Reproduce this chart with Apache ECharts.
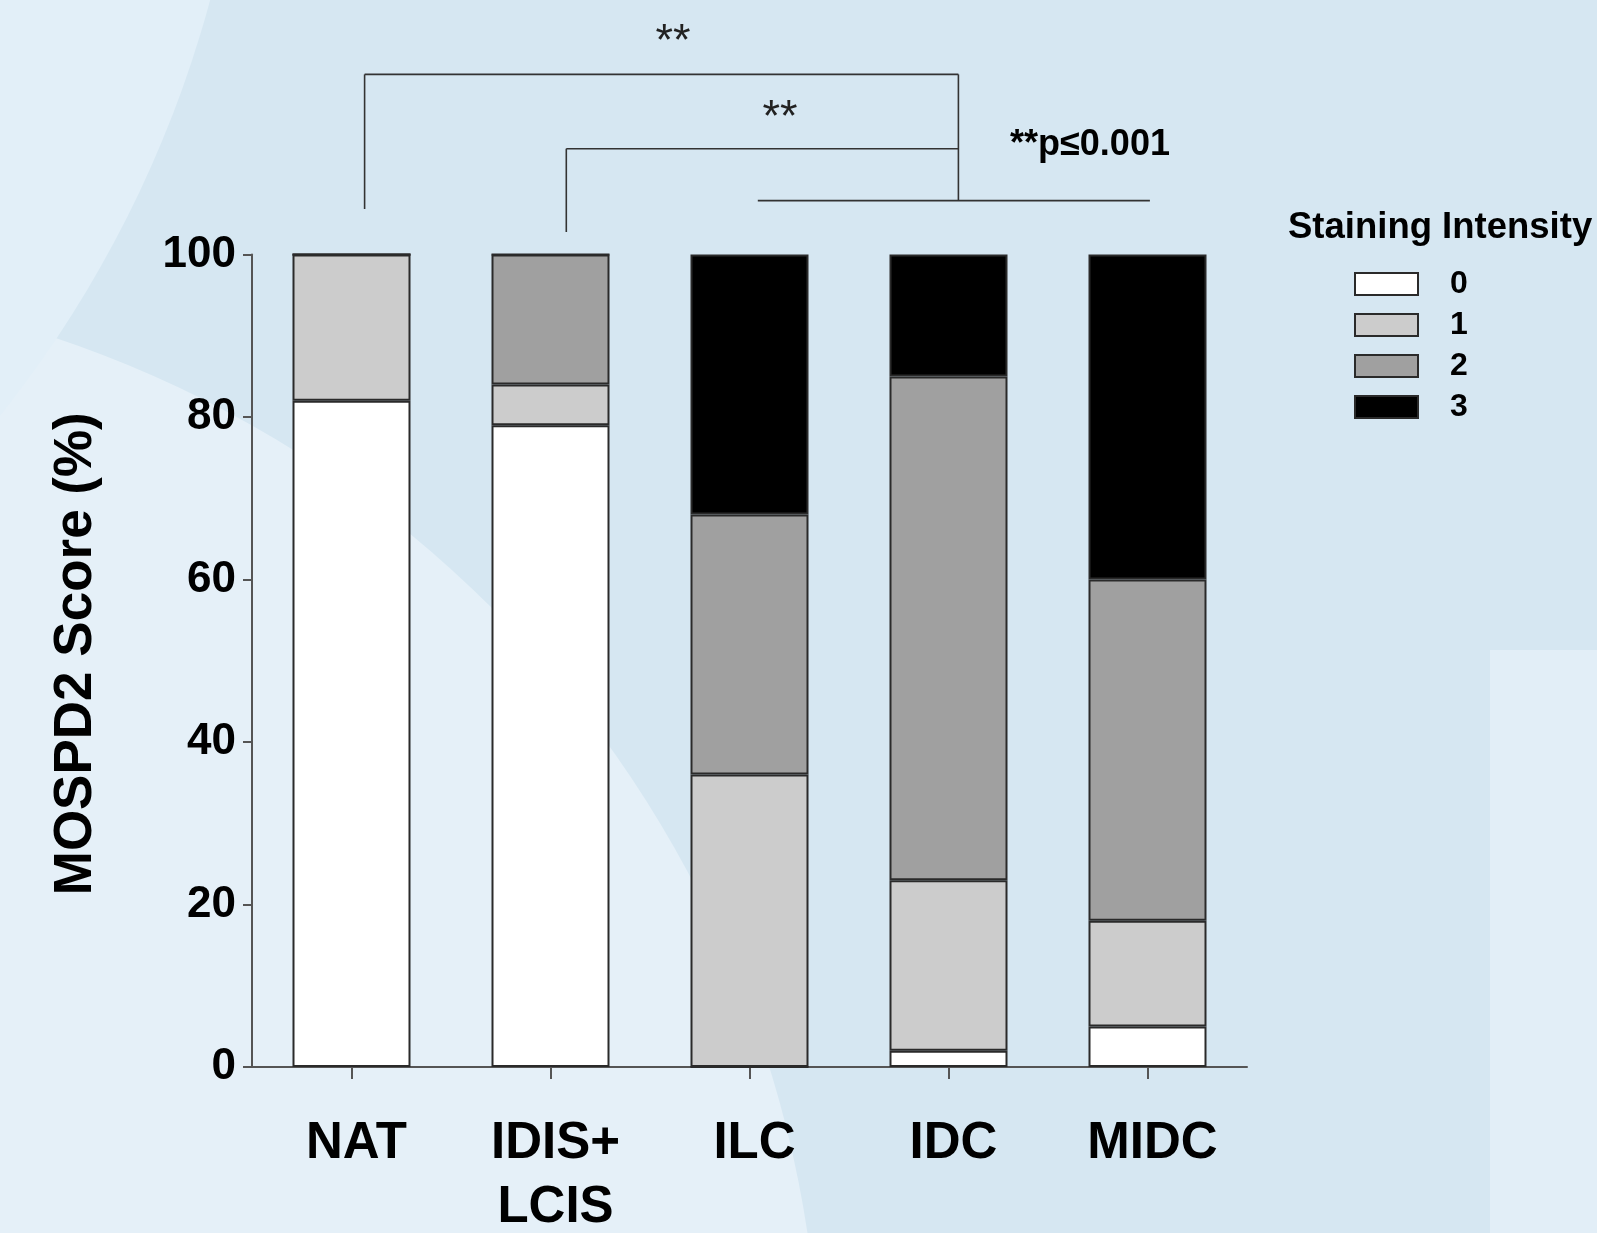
<!DOCTYPE html>
<html>
<head>
<meta charset="utf-8">
<script src="https://cdn.jsdelivr.net/npm/echarts@6/dist/echarts.min.js"></script>
<style>
html,body{margin:0;padding:0;background:#d6e7f2;overflow:hidden;}
#chart{width:1597px;height:1233px;}
</style>
</head>
<body>
<div id="chart"></div>
<script>
// ---- data ----
var categories = ['NAT', 'IDIS+\nLCIS', 'ILC', 'IDC', 'MIDC'];
var seriesNames = ['0', '1', '2', '3'];
var intensity0 = [82, 79, 0, 2, 5];
var intensity1 = [18, 5, 36, 21, 13];
var intensity2 = [0, 16, 32, 62, 42];
var intensity3 = [0, 0, 32, 15, 40];
var yTicks = [0, 20, 40, 60, 80, 100];

var seriesValues = [intensity0, intensity1, intensity2, intensity3];
var colors = ['#ffffff', '#cccccc', '#a0a0a0', '#000000'];

var chart = echarts.init(document.getElementById('chart'), null, {renderer: 'canvas'});

var boldFont = "'Liberation Sans', Arial, sans-serif";

var series = seriesNames.map(function (n, i) {
  return {
    name: n,
    type: 'bar',
    stack: 'score',
    barWidth: 118,
    data: seriesValues[i],
    itemStyle: {color: colors[i], borderColor: '#2a2a2a', borderWidth: 2},
    emphasis: {disabled: true},
    z: 3
  };
});

var lineStyle = {stroke: '#333', lineWidth: 1.6};
function seg(x1, y1, x2, y2) {
  return {type: 'line', shape: {x1: x1, y1: y1, x2: x2, y2: y2}, style: lineStyle, z: 10, silent: true};
}

var option = {
  backgroundColor: 'transparent',
  animation: false,
  grid: {left: 252, right: 350, top: 254.5, bottom: 166, containLabel: false, outerBoundsMode: 'none'},
  legend: {
    orient: 'vertical',
    left: 1349,
    top: 263,
    itemWidth: 63,
    itemHeight: 22,
    itemGap: 9,
    icon: 'rect',
    data: seriesNames,
    itemStyle: {borderColor: '#2a2a2a', borderWidth: 2},
    textStyle: {fontFamily: boldFont, fontWeight: 'bold', fontSize: 32, color: '#000', padding: [0, 0, 0, 27]},
    selectedMode: false
  },
  xAxis: {
    type: 'category',
    data: categories,
    axisLine: {lineStyle: {color: '#555', width: 2}},
    axisTick: {show: true, alignWithLabel: true, length: 12, lineStyle: {color: '#555', width: 2}},
    axisLabel: {
      fontFamily: boldFont, fontWeight: 'bold', fontSize: 51, color: '#000',
      margin: 45, lineHeight: 64, padding: [0, 0, 0, 10], interval: 0
    }
  },
  yAxis: {
    type: 'value',
    min: 0, max: 100, interval: 20,
    name: 'MOSPD2 Score (%)',
    nameLocation: 'middle',
    nameRotate: 90,
    nameGap: 149,
    nameTextStyle: {fontFamily: boldFont, fontWeight: 'bold', fontSize: 53, color: '#000', padding: [0, 0, 0, 14]},
    axisLine: {show: true, lineStyle: {color: '#555', width: 2}},
    axisTick: {show: true, length: 9, lineStyle: {color: '#555', width: 2}},
    splitLine: {show: false},
    axisLabel: {
      fontFamily: boldFont, fontWeight: 'bold', fontSize: 44, color: '#000', margin: 16,
      formatter: function (v) { return yTicks.indexOf(v) >= 0 ? String(v) : ''; }
    }
  },
  graphic: [
    // background shading
    {type: 'circle', shape: {cx: -300, cy: 1400, r: 1120}, style: {fill: '#e5f0f8'}, z: -10, silent: true},
    {type: 'circle', shape: {cx: -900, cy: -300, r: 1150}, style: {fill: '#e2eff8'}, z: -10, silent: true},
    {type: 'rect', shape: {x: 1490, y: 650, width: 200, height: 600}, style: {fill: '#e2eef7'}, z: -10, silent: true},
    // significance brackets
    seg(364.6, 74.4, 958.4, 74.4),
    seg(364.6, 74.4, 364.6, 209),
    seg(958.4, 74.4, 958.4, 200.6),
    seg(566.3, 148.7, 958.4, 148.7),
    seg(566.3, 148.7, 566.3, 232),
    seg(757.8, 200.6, 1149.9, 200.6),
    {type: 'text', x: 673, y: 43, style: {text: '**', fontFamily: boldFont, fontSize: 45, fill: '#222', align: 'center', verticalAlign: 'middle'}, z: 10, silent: true},
    {type: 'text', x: 780, y: 119, style: {text: '**', fontFamily: boldFont, fontSize: 45, fill: '#222', align: 'center', verticalAlign: 'middle'}, z: 10, silent: true},
    {type: 'text', x: 1090, y: 145, style: {text: '**p\u22640.001', fontFamily: boldFont, fontWeight: 'bold', fontSize: 36, fill: '#000', align: 'center', verticalAlign: 'middle'}, z: 10, silent: true},
    {type: 'text', x: 1288, y: 228, style: {text: 'Staining Intensity', fontFamily: boldFont, fontWeight: 'bold', fontSize: 36.5, fill: '#000', align: 'left', verticalAlign: 'middle'}, z: 10, silent: true}
  ],
  series: series
};
chart.setOption(option);
</script>
</body>
</html>
